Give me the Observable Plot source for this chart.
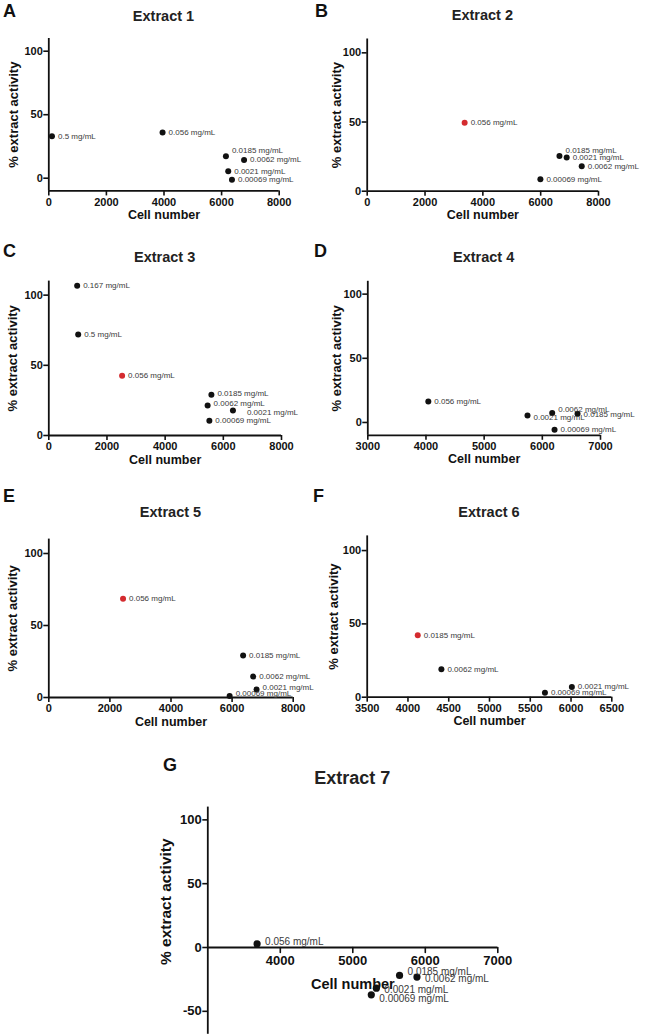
<!DOCTYPE html>
<html><head><meta charset="utf-8">
<script src="https://cdn.jsdelivr.net/npm/d3@7"></script>
<script src="https://cdn.jsdelivr.net/npm/@observablehq/plot@0.6"></script>
<style>
body{margin:0;background:#fff;}
#fig{position:relative;width:647px;height:1036px;overflow:hidden;font-family:"Liberation Sans",Arial,sans-serif;background:#fff;}
.lt{position:absolute;font-weight:bold;font-size:18px;line-height:18px;color:#111;}
.tt{position:absolute;font-weight:bold;line-height:1;color:#222;transform:translate(-50%,-50%);white-space:nowrap;}
</style></head><body><div id="fig"></div>
<script>
// ---------- data ----------
const ext1Conc = ["0.5 mg/mL","0.056 mg/mL","0.0185 mg/mL","0.0062 mg/mL","0.0021 mg/mL","0.00069 mg/mL"];
const ext1Cells = [110, 3950, 6150, 6780, 6230, 6360];
const ext1Activity = [33, 36, 17.3, 14.4, 5.5, -1.3];
const ext1Best = null;

const ext2Conc = ["0.056 mg/mL","0.0185 mg/mL","0.0021 mg/mL","0.0062 mg/mL","0.00069 mg/mL"];
const ext2Cells = [3370, 6650, 6900, 7420, 5990];
const ext2Activity = [49.5, 25.5, 24.3, 18, 8.7];
const ext2Best = "0.056 mg/mL";

const ext3Conc = ["0.167 mg/mL","0.5 mg/mL","0.056 mg/mL","0.0185 mg/mL","0.0062 mg/mL","0.0021 mg/mL","0.00069 mg/mL"];
const ext3Cells = [975, 1010, 2520, 5590, 5460, 6330, 5520];
const ext3Activity = [106.6, 72, 42.5, 29, 21.4, 17.8, 10.5];
const ext3Best = "0.056 mg/mL";

const ext4Conc = ["0.056 mg/mL","0.0021 mg/mL","0.0062 mg/mL","0.0185 mg/mL","0.00069 mg/mL"];
const ext4Cells = [4040, 5745, 6170, 6605, 6210];
const ext4Activity = [16.4, 5.5, 7.3, 6.8, -5.7];
const ext4Best = null;

const ext5Conc = ["0.056 mg/mL","0.0185 mg/mL","0.0062 mg/mL","0.0021 mg/mL","0.00069 mg/mL"];
const ext5Cells = [2430, 6360, 6690, 6800, 5920];
const ext5Activity = [68.6, 29.1, 14.5, 5.5, 1.1];
const ext5Best = "0.056 mg/mL";

const ext6Conc = ["0.0185 mg/mL","0.0062 mg/mL","0.00069 mg/mL","0.0021 mg/mL"];
const ext6Cells = [4120, 4410, 5680, 6010];
const ext6Activity = [42.3, 19.1, 3.0, 7.0];
const ext6Best = "0.0185 mg/mL";

const ext7Conc = ["0.056 mg/mL","0.0185 mg/mL","0.0062 mg/mL","0.0021 mg/mL","0.00069 mg/mL"];
const ext7Cells = [3680, 5645, 5885, 5325, 5255];
const ext7Activity = [2.9, -21.9, -23.2, -31.9, -37.1];
const ext7Best = null;

const xTicks0to8000 = [0, 2000, 4000, 6000, 8000];
const xTicksExt4 = [3000, 4000, 5000, 6000, 7000];
const xTicksExt6 = [3500, 4000, 4500, 5000, 5500, 6000, 6500];
const xTicksExt7 = [4000, 5000, 6000, 7000];
const yTicksStd = [0, 50, 100];
const yTicksExt7 = [-50, 0, 50, 100];

const panelLetters = ["A","B","C","D","E","F","G"];
const panelTitles = ["Extract 1","Extract 2","Extract 3","Extract 4","Extract 5","Extract 6","Extract 7"];
const xLabel = "Cell number";
const yLabel = "% extract activity";

// ---------- style / layout ----------
const INK = "#111";
const RED = "#d42b2f";
const LABEL_INK = "#3a3a3a";
const FONT = '"Liberation Sans", Arial, sans-serif';

const nudgeA = {"0.0185 mg/mL": [0, -6]};
const nudgeB = {"0.0185 mg/mL": [0, -5]};
const nudgeC = {"0.0185 mg/mL": [0, -1], "0.0062 mg/mL": [0, -2], "0.0021 mg/mL": [8, 2]};
const nudgeD = {"0.0062 mg/mL": [0, -4], "0.0021 mg/mL": [0, 2], "0.0185 mg/mL": [0, 1]};
const nudgeE = {"0.0021 mg/mL": [0, -2], "0.00069 mg/mL": [0, -2]};
const nudgeF = {};
const nudgeG = {"0.056 mg/mL": [0, -2], "0.0185 mg/mL": [0, -4], "0.0062 mg/mL": [0, 2], "0.0021 mg/mL": [0, 2], "0.00069 mg/mL": [0, 4]};

const fig = document.getElementById("fig");

function addDiv(cls, text, css) {
  const d = document.createElement("div");
  d.className = cls;
  d.textContent = text;
  Object.assign(d.style, css);
  fig.appendChild(d);
}

function drawPanel(c) {
  const idx = c.conc.map((_, i) => i);
  const X = i => c.cells[i], Y = i => c.act[i];
  const marks = [];
  // axis lines
  marks.push(Plot.ruleX([c.xDomain[0]], {stroke: INK, strokeWidth: 1.8}));
  marks.push(Plot.ruleY([c.xAxisAt], {stroke: INK, strokeWidth: 1.8}));
  // y axis ticks
  marks.push(Plot.axisY(c.yTicks, {tickSize: 5, tickPadding: 1, tickFormat: d => String(d), label: null,
    fontSize: c.tickFont, fontWeight: "bold", stroke: INK, fill: INK, strokeWidth: 1.6}));
  // x axis ticks
  if (c.xAxisAt === c.yDomain[0]) {
    marks.push(Plot.axisX(c.xTicks, {anchor: "bottom", tickSize: 5, tickPadding: 2, tickFormat: d => String(d), label: null,
      fontSize: c.tickFont, fontWeight: "bold", stroke: INK, fill: INK, strokeWidth: 1.6}));
    marks.push(Plot.text([c.xLabel], {frameAnchor: "bottom", dy: c.xLabelDy, text: d => d, textAnchor: "middle",
      fontSize: c.labelFont, fontWeight: "bold", fill: INK}));
  } else {
    marks.push(Plot.vector(c.xTicks, {x: d => d, y: () => c.xAxisAt, length: 5, anchor: "start",
      shape: {draw(ctx, l) { ctx.moveTo(0, 0); ctx.lineTo(0, l); }}, stroke: INK, strokeWidth: 1.6}));
    marks.push(Plot.text(c.xTicks, {x: d => d, y: () => c.xAxisAt, dy: 8, lineAnchor: "top", text: d => String(d),
      fontSize: c.tickFont, fontWeight: "bold", fill: INK}));
    marks.push(Plot.text([c.xLabel], {y: () => c.xAxisAt, frameAnchor: "middle", dy: c.xLabelDy, text: d => d, textAnchor: "middle",
      fontSize: c.xLabelFont || c.labelFont, fontWeight: "bold", fill: INK}));
  }
  marks.push(Plot.text([c.yLabel], {frameAnchor: "left", rotate: -90, textAnchor: "middle", lineAnchor: "middle",
    dx: c.yLabelDx, dy: c.yLabelDy || 0, text: d => d,
    fontSize: c.yLabelFont || c.labelFont, fontWeight: "bold", fill: INK}));
  // points
  marks.push(Plot.dot(idx, {x: X, y: Y, r: c.r, fill: INK, filter: i => c.conc[i] !== c.best}));
  marks.push(Plot.dot(idx, {x: X, y: Y, r: c.r, fill: RED, filter: i => c.conc[i] === c.best}));
  // labels
  idx.forEach(i => {
    const n = c.nudge[c.conc[i]] || [0, 0];
    marks.push(Plot.text([i], {x: X, y: Y, text: j => c.conc[j], textAnchor: "start",
      dx: c.labelDx + n[0], dy: n[1], fontSize: c.ptFont, fill: LABEL_INK}));
  });

  const svg = Plot.plot({
    width: c.w, height: c.h,
    marginLeft: c.mL, marginRight: c.mR, marginTop: c.mT, marginBottom: c.mB,
    x: {domain: c.xDomain, axis: null},
    y: {domain: c.yDomain, axis: null},
    style: {background: "transparent", overflow: "visible", position: "absolute",
      left: c.left + "px", top: c.top + "px", fontFamily: FONT, maxWidth: "none"},
    marks
  });
  fig.appendChild(svg);

  // title
  const fx = c.left + c.mL + (c.w - c.mL - c.mR) / 2;
  addDiv("tt", c.title, {left: fx + "px", top: c.titleY + "px", fontSize: c.titleFont + "px"});
  addDiv("lt", c.letter, {left: c.letterX + "px", top: c.letterY + "px"});
}

const common = {xLabel, yLabel, tickFont: 11, labelFont: 12.5, yLabelFont: 13, ptFont: 8, r: 3, labelDx: 6, titleFont: 14.5, xLabelDy: 28};

drawPanel({...common, conc: ext1Conc, cells: ext1Cells, act: ext1Activity, best: ext1Best, nudge: nudgeA,
  xDomain: [0, 8000], yDomain: [-10, 110], xAxisAt: -10, xTicks: xTicks0to8000, yTicks: yTicksStd,
  left: 0, top: 20, w: 300, h: 210, mL: 48.3, mR: 21.3, mT: 18, mB: 39.6, yLabelDx: -35,
  title: panelTitles[0], titleY: 16, letter: panelLetters[0], letterX: 3, letterY: 2});

drawPanel({...common, conc: ext2Conc, cells: ext2Cells, act: ext2Activity, best: ext2Best, nudge: nudgeB,
  xDomain: [0, 8000], yDomain: [0, 110], xAxisAt: 0, xTicks: xTicks0to8000, yTicks: yTicksStd,
  left: 324, top: 20, w: 300, h: 210, mL: 42.7, mR: 26, mT: 18.5, mB: 39.3, yLabelDx: -30,
  title: panelTitles[1], titleY: 15, letter: panelLetters[1], letterX: 315, letterY: 2});

drawPanel({...common, conc: ext3Conc, cells: ext3Cells, act: ext3Activity, best: ext3Best, nudge: nudgeC,
  xDomain: [0, 8000], yDomain: [0, 110], xAxisAt: 0, xTicks: xTicks0to8000, yTicks: yTicksStd,
  left: 0, top: 262, w: 300, h: 210, mL: 48.3, mR: 19, mT: 18.6, mB: 37, yLabelDx: -36,
  title: panelTitles[2], titleY: 257, letter: panelLetters[2], letterX: 3, letterY: 242});

drawPanel({...common, conc: ext4Conc, cells: ext4Cells, act: ext4Activity, best: ext4Best, nudge: nudgeD,
  xDomain: [3000, 7000], yDomain: [-10, 110], xAxisAt: -10, xTicks: xTicksExt4, yTicks: yTicksStd,
  left: 324, top: 262, w: 300, h: 210, mL: 43.3, mR: 24, mT: 18.8, mB: 37.2, yLabelDx: -31,
  title: panelTitles[3], titleY: 257, letter: panelLetters[3], letterX: 314, letterY: 242});

drawPanel({...common, conc: ext5Conc, cells: ext5Cells, act: ext5Activity, best: ext5Best, nudge: nudgeE,
  xDomain: [0, 8000], yDomain: [0, 110], xAxisAt: 0, xTicks: xTicks0to8000, yTicks: yTicksStd,
  left: 0, top: 520, w: 310, h: 220, mL: 48.3, mR: 17.3, mT: 18.6, mB: 43, yLabelDx: -36,
  title: panelTitles[4], titleY: 512, letter: panelLetters[4], letterX: 3, letterY: 487});

drawPanel({...common, conc: ext6Conc, cells: ext6Cells, act: ext6Activity, best: ext6Best, nudge: nudgeF,
  xDomain: [3500, 6500], yDomain: [0, 110], xAxisAt: 0, xTicks: xTicksExt6, yTicks: yTicksStd,
  left: 324, top: 520, w: 323, h: 220, mL: 42.7, mR: 35.7, mT: 15.4, mB: 43.3, yLabelDx: -33,
  title: panelTitles[5], titleY: 512, letter: panelLetters[5], letterX: 313, letterY: 487});

drawPanel({...common, conc: ext7Conc, cells: ext7Cells, act: ext7Activity, best: ext7Best, nudge: nudgeG,
  xDomain: [3000, 7000], yDomain: [-68, 110], xAxisAt: 0, xTicks: xTicksExt7, yTicks: yTicksExt7,
  tickFont: 13, labelFont: 14.5, xLabelFont: 14.5, yLabelFont: 15.5, ptFont: 10, r: 3.6, labelDx: 8, xLabelDy: 37,
  left: 120, top: 790, w: 420, h: 246, mL: 87.3, mR: 42.7, mT: 16.6, mB: 2.2, yLabelDx: -42, yLabelDy: -19,
  title: panelTitles[6], titleY: 778, titleFont: 18, letter: panelLetters[6], letterX: 163, letterY: 756});
</script></body></html>
